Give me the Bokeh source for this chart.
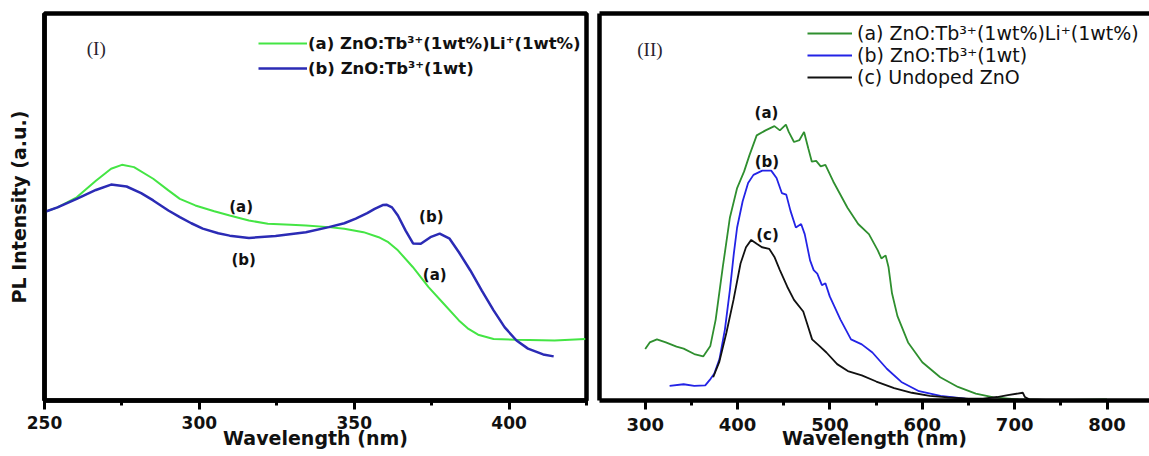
from bokeh.plotting import figure
from bokeh.layouts import row
from bokeh.models import Range1d, FixedTicker, LinearAxis, Legend, LegendItem, Label
from bokeh.embed import file_html
from bokeh.resources import INLINE

# ---------------- data: panel (I) ----------------
wl_I_a = [250.0, 254.2, 260.4, 266.6, 271.5, 275.0, 278.9, 285.1, 290.0, 293.7, 298.7, 304.8,
          309.8, 316.0, 322.1, 329.5, 334.4, 341.8, 346.8, 353.0, 357.9, 361.0, 364.1, 368.9,
          374.0, 378.9, 383.8, 386.9, 390.0, 395.0, 402.4, 414.7, 424.6]
pl_I_a = [48.7, 49.9, 52.5, 56.8, 59.9, 60.9, 60.3, 57.3, 54.3, 52.1, 50.4, 48.9,
          47.8, 46.5, 45.7, 45.4, 45.2, 44.8, 44.4, 43.5, 42.2, 40.9, 38.8, 34.5,
          29.3, 25.0, 20.7, 18.5, 17.0, 15.9, 15.7, 15.5, 15.9]

wl_I_b = [250.0, 254.2, 260.4, 266.6, 271.5, 276.5, 281.2, 285.1, 290.0, 293.7, 297.4, 301.1,
          306.1, 309.8, 316.0, 324.6, 334.4, 341.8, 346.8, 350.5, 354.2, 356.6, 359.2, 360.4,
          362.2, 364.1, 366.6, 369.0, 371.5, 374.6, 377.6, 380.8, 383.8, 387.5, 391.2, 395.0,
          398.6, 402.4, 406.1, 411.0, 414.4]
pl_I_b = [48.7, 49.9, 52.1, 54.4, 55.8, 55.3, 53.6, 51.7, 49.1, 47.4, 45.8, 44.4,
          43.2, 42.6, 42.0, 42.5, 43.5, 44.8, 45.8, 47.0, 48.4, 49.5, 50.5, 50.6,
          49.9, 47.8, 43.9, 40.6, 40.5, 42.2, 43.1, 41.8, 38.3, 33.6, 28.4, 23.3,
          18.9, 15.5, 13.4, 11.9, 11.4]

# ---------------- data: panel (II) ----------------
wl_II_a = [300.0, 304.9, 312.7, 322.3, 333.9, 341.6, 353.1, 362.8, 370.5, 376.3, 384.0, 391.7,
           399.5, 407.1, 412.9, 420.7, 430.3, 439.9, 445.8, 452.3, 455.4, 461.1, 467.0, 472.0,
           476.6, 480.4, 485.1, 490.0, 495.1, 503.6, 519.0, 530.6, 542.2, 551.8, 555.7, 560.3,
           563.4, 567.2, 573.1, 584.6, 600.0, 619.4, 638.6, 657.9, 677.3, 704.2, 742.9, 799.9]
pl_II_a = [13.3, 15.0, 15.8, 15.0, 13.9, 13.4, 12.0, 11.4, 14.1, 20.9, 34.5, 47.3,
           54.9, 59.2, 63.4, 68.5, 69.8, 70.9, 69.8, 71.3, 69.4, 66.8, 67.3, 69.4,
           65.1, 61.7, 61.9, 60.5, 60.9, 56.6, 49.8, 45.6, 43.0, 38.8, 36.7, 37.5,
           34.5, 27.7, 21.8, 15.0, 9.9, 6.0, 3.5, 1.8, 0.8, 0.3, 0.1, 0.3]

wl_II_b = [326.4, 341.6, 353.1, 365.0, 370.8, 374.7, 380.4, 386.3, 391.7, 395.9, 399.5, 405.5,
           411.4, 417.2, 426.7, 436.4, 442.2, 447.9, 452.7, 457.3, 463.1, 468.8, 472.7, 478.5,
           482.4, 486.3, 491.3, 495.1, 499.8, 511.4, 522.8, 534.5, 546.0, 561.6, 577.3, 596.5,
           619.7, 646.6, 685.0, 742.9, 799.9]
pl_II_b = [3.8, 4.2, 3.8, 3.9, 5.6, 6.9, 10.7, 18.4, 28.6, 37.9, 44.7, 51.5,
           56.2, 58.3, 59.4, 59.4, 57.5, 53.6, 53.2, 49.0, 44.7, 45.6, 43.0, 36.2,
           33.7, 32.8, 29.8, 30.3, 26.9, 20.9, 15.8, 14.5, 12.4, 8.2, 4.8, 2.4,
           1.2, 0.5, 0.1, 0.0, 0.1]

wl_II_c = [373.6, 380.1, 387.9, 395.6, 403.2, 409.1, 414.8, 420.7, 426.4, 434.2, 439.9, 445.8,
           453.8, 461.1, 471.1, 475.0, 480.7, 488.5, 496.2, 507.8, 519.4, 534.5, 550.2, 569.5,
           588.7, 608.0, 627.4, 650.2, 665.7, 681.1, 692.6, 708.8, 711.1, 715.8, 742.9, 799.9]
pl_II_c = [6.0, 9.9, 17.5, 26.0, 35.4, 39.6, 41.5, 40.5, 39.6, 39.2, 37.1, 33.7,
           29.4, 26.0, 23.0, 20.1, 15.8, 14.1, 12.4, 9.4, 7.6, 6.5, 4.9, 3.2,
           2.0, 1.2, 0.8, 0.5, 0.5, 0.9, 1.4, 2.0, 0.9, 0.3, 0.1, 0.1]

ticks_I_major = [250, 300, 350, 400]
ticks_I_minor = [275, 325, 375, 425]
ticks_II_major = [300, 400, 500, 600, 700, 800]
ticks_II_minor = [250, 350, 450, 550, 650, 750, 850]

labels_I = ["(a) ZnO:Tb³⁺(1wt%)Li⁺(1wt%)", "(b) ZnO:Tb³⁺(1wt)"]
labels_II = ["(a) ZnO:Tb³⁺(1wt%)Li⁺(1wt%)", "(b) ZnO:Tb³⁺(1wt)", "(c) Undoped ZnO"]

SANS = "DejaVu Sans"
SERIF = "Liberation Serif"
LW = 4.5


def style_bottom(ax, major, minor, size, standoff, title_standoff):
    ax.ticker = FixedTicker(ticks=major, minor_ticks=minor)
    ax.axis_line_width = LW
    ax.axis_line_color = "black"
    ax.major_tick_line_width = 3
    ax.minor_tick_line_width = 3
    ax.major_tick_out = 9
    ax.major_tick_in = 0
    ax.minor_tick_out = 5
    ax.minor_tick_in = 0
    ax.major_label_text_font = SANS
    ax.major_label_text_font_style = "bold"
    ax.major_label_text_font_size = size
    ax.major_label_text_color = "#111111"
    ax.major_label_standoff = standoff
    ax.axis_label = "Wavelength (nm)"
    ax.axis_label_text_font = SANS
    ax.axis_label_text_font_style = "bold"
    ax.axis_label_text_font_size = "19px"
    ax.axis_label_text_color = "#111111"
    ax.axis_label_standoff = title_standoff


def bare(ax):
    ax.ticker = FixedTicker(ticks=[])
    ax.major_tick_out = 0
    ax.major_tick_in = 0
    ax.minor_tick_out = 0
    ax.minor_tick_in = 0
    ax.major_label_standoff = 0
    ax.axis_line_width = LW
    ax.axis_line_color = "black"


# ---------------- panel (I) ----------------
p1 = figure(width=592, height=456, x_range=Range1d(250, 425), y_range=Range1d(0, 100),
            output_backend="svg", toolbar_location=None,
            min_border_left=44, min_border_right=6, min_border_top=13, min_border_bottom=56)
p1.xgrid.visible = False
p1.ygrid.visible = False
p1.outline_line_color = "black"
p1.outline_line_width = LW
p1.outline_line_alpha = 1
style_bottom(p1.xaxis[0], ticks_I_major, ticks_I_minor, "17px", 6, -5)
yax = p1.yaxis[0]
bare(yax)
yax.axis_label = "PL Intensity (a.u.)"
yax.axis_label_text_font = SANS
yax.axis_label_text_font_style = "bold"
yax.axis_label_text_font_size = "19px"
yax.axis_label_text_color = "#111111"
yax.axis_label_standoff = 15

r1a = p1.line(wl_I_a, pl_I_a, line_color="#44e544", line_width=2)
r1b = p1.line(wl_I_b, pl_I_b, line_color="#2b2bb5", line_width=2.5)

leg1 = Legend(items=[LegendItem(label=labels_I[0], renderers=[r1a]),
                     LegendItem(label=labels_I[1], renderers=[r1b])],
              location=(214, 322), padding=0, margin=0, border_line_alpha=0,
              background_fill_alpha=0, label_text_font=SANS, label_text_font_style="bold",
              label_text_font_size="16.5px", label_text_color="#111111",
              glyph_width=49, glyph_height=20, label_height=20, spacing=5, label_standoff=1)
p1.add_layout(leg1, "center")

p1.add_layout(Label(x=266.7, y=91.0, text="(I)", text_font=SERIF, text_font_size="19px",
                    text_color="#2a1f30", text_align="center", text_baseline="middle"))
for (lx, ly, t) in [(313.5, 49.9, "(a)"), (374.9, 47.4, "(b)"), (314.3, 36.2, "(b)"), (376.0, 32.3, "(a)")]:
    p1.add_layout(Label(x=lx, y=ly, text=t, text_font=SANS, text_font_style="bold",
                        text_font_size="15px", text_color="#111111",
                        text_align="center", text_baseline="middle"))

# ---------------- panel (II) ----------------
p2 = figure(width=557, height=456, x_range=Range1d(250.5, 846), y_range=Range1d(0, 100),
            output_backend="svg", toolbar_location=None,
            min_border_left=7, min_border_right=0, min_border_top=10, min_border_bottom=54)
p2.xgrid.visible = False
p2.ygrid.visible = False
p2.outline_line_color = None
style_bottom(p2.xaxis[0], ticks_II_major, ticks_II_minor, "18px", 8, -7)
bare(p2.yaxis[0])
top_ax = LinearAxis()
bare(top_ax)
p2.add_layout(top_ax, "above")

r2a = p2.line(wl_II_a, pl_II_a, line_color="#2f8f2f", line_width=1.8)
r2b = p2.line(wl_II_b, pl_II_b, line_color="#2323e6", line_width=1.8)
r2c = p2.line(wl_II_c, pl_II_c, line_color="#111111", line_width=1.8)

leg2 = Legend(items=[LegendItem(label=labels_II[0], renderers=[r2a]),
                     LegendItem(label=labels_II[1], renderers=[r2b]),
                     LegendItem(label=labels_II[2], renderers=[r2c])],
              location=(208, 312), padding=0, margin=0, border_line_alpha=0,
              background_fill_alpha=0, label_text_font=SANS,
              label_text_font_size="19px", label_text_color="#111111",
              glyph_width=45, glyph_height=18, label_height=18, spacing=0, label_standoff=5)
p2.add_layout(leg2, "center")

p2.add_layout(Label(x=305.1, y=90.8, text="(II)", text_font=SERIF, text_font_size="19px",
                    text_color="#2a1f30", text_align="center", text_baseline="middle"))
for (lx, ly, t) in [(431.3, 74.3, "(a)"), (431.7, 61.5, "(b)"), (432.4, 42.7, "(c)")]:
    p2.add_layout(Label(x=lx, y=ly, text=t, text_font=SANS, text_font_style="bold",
                        text_font_size="15px", text_color="#111111",
                        text_align="center", text_baseline="middle"))

layout = row(p1, p2)
open("out.html", "w").write(file_html(layout, INLINE))
